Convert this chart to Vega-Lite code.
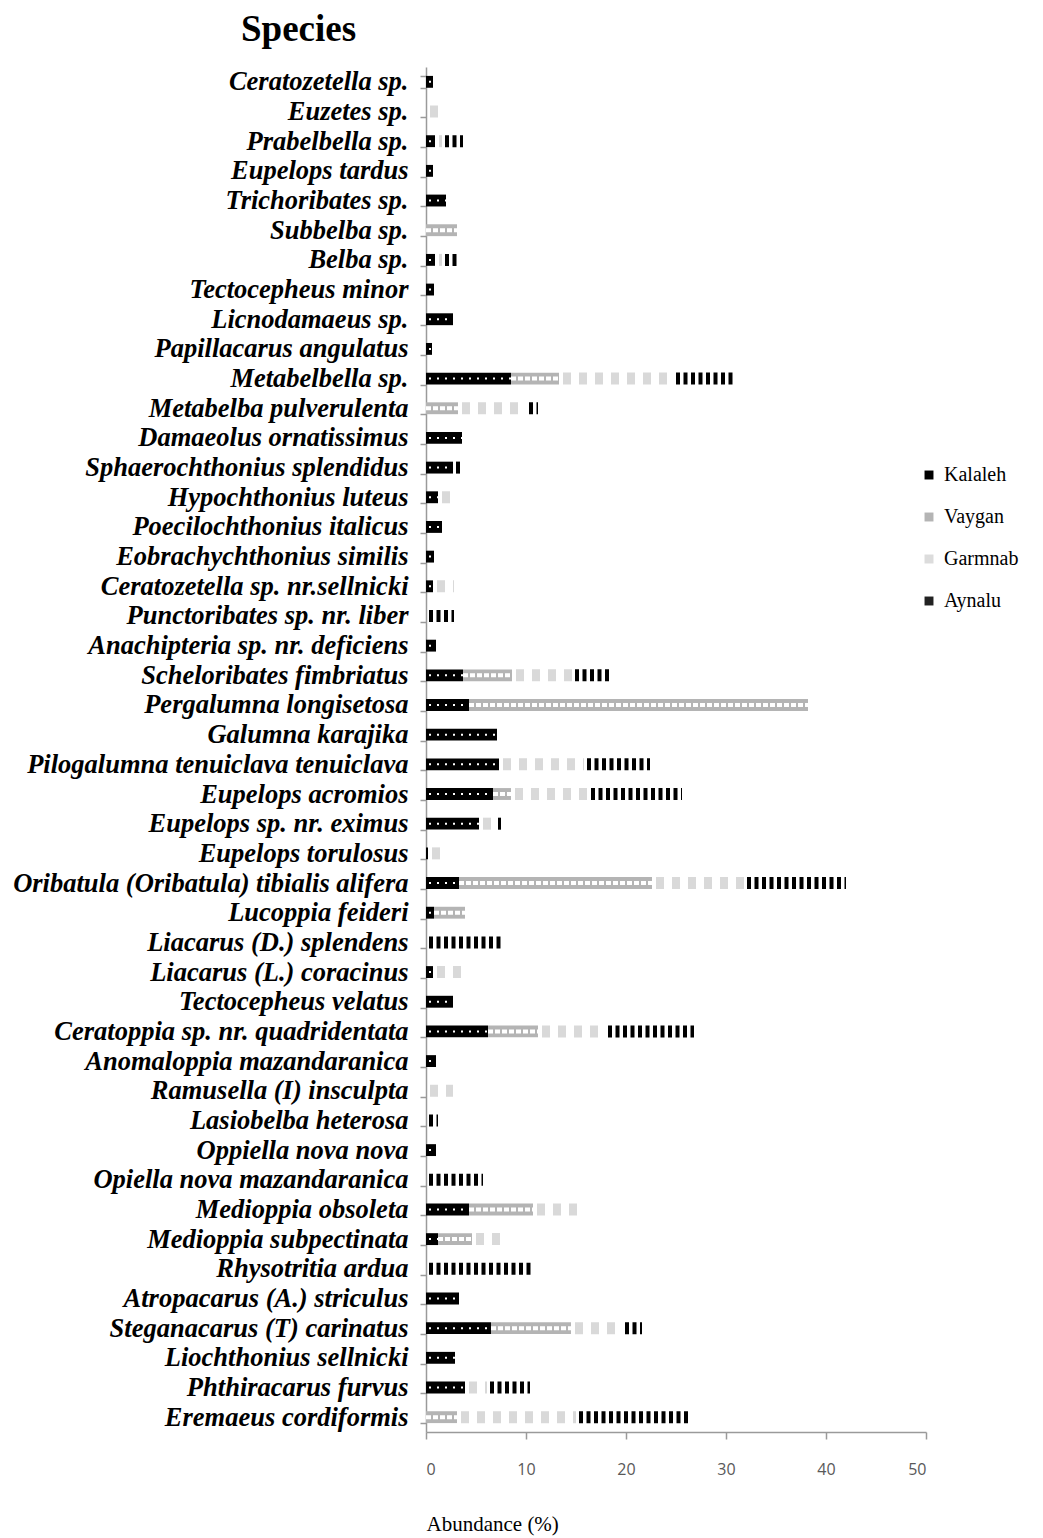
{
  "$schema": "https://vega.github.io/schema/vega-lite/v6.json",
  "width": 500,
  "height": 1365,
  "autosize": {"type": "none"},
  "padding": {"left": 426, "top": 67, "right": 117, "bottom": 106},
  "background": "white",
  "title": {"text": "Species", "font": "Liberation Serif", "fontSize": 37, "fontWeight": "bold", "color": "black", "anchor": "start", "frame": "group", "dx": -185, "offset": 5},
  "config": {"view": {"stroke": null}},
  "data": {"values": [
    {"species": "Ceratozetella sp.", "site": "Kalaleh", "abundance": 0.7},
    {"species": "Euzetes sp.", "site": "Garmnab", "abundance": 1.5},
    {"species": "Prabelbella sp.", "site": "Kalaleh", "abundance": 0.9},
    {"species": "Prabelbella sp.", "site": "Garmnab", "abundance": 0.7},
    {"species": "Prabelbella sp.", "site": "Aynalu", "abundance": 2.1},
    {"species": "Eupelops tardus", "site": "Kalaleh", "abundance": 0.7},
    {"species": "Trichoribates sp.", "site": "Kalaleh", "abundance": 2.0},
    {"species": "Subbelba sp.", "site": "Vaygan", "abundance": 3.1},
    {"species": "Belba sp.", "site": "Kalaleh", "abundance": 0.9},
    {"species": "Belba sp.", "site": "Garmnab", "abundance": 0.7},
    {"species": "Belba sp.", "site": "Aynalu", "abundance": 1.8},
    {"species": "Tectocepheus minor", "site": "Kalaleh", "abundance": 0.8},
    {"species": "Licnodamaeus sp.", "site": "Kalaleh", "abundance": 2.7},
    {"species": "Papillacarus angulatus", "site": "Kalaleh", "abundance": 0.6},
    {"species": "Metabelbella sp.", "site": "Kalaleh", "abundance": 8.5},
    {"species": "Metabelbella sp.", "site": "Vaygan", "abundance": 4.8},
    {"species": "Metabelbella sp.", "site": "Garmnab", "abundance": 11.4},
    {"species": "Metabelbella sp.", "site": "Aynalu", "abundance": 6.3},
    {"species": "Metabelba pulverulenta", "site": "Vaygan", "abundance": 3.2},
    {"species": "Metabelba pulverulenta", "site": "Garmnab", "abundance": 6.8},
    {"species": "Metabelba pulverulenta", "site": "Aynalu", "abundance": 1.2},
    {"species": "Damaeolus ornatissimus", "site": "Kalaleh", "abundance": 3.6},
    {"species": "Sphaerochthonius splendidus", "site": "Kalaleh", "abundance": 2.7},
    {"species": "Sphaerochthonius splendidus", "site": "Aynalu", "abundance": 0.9},
    {"species": "Hypochthonius luteus", "site": "Kalaleh", "abundance": 1.2},
    {"species": "Hypochthonius luteus", "site": "Garmnab", "abundance": 1.2},
    {"species": "Poecilochthonius italicus", "site": "Kalaleh", "abundance": 1.6},
    {"species": "Eobrachychthonius similis", "site": "Kalaleh", "abundance": 0.8},
    {"species": "Ceratozetella sp. nr.sellnicki", "site": "Kalaleh", "abundance": 0.7},
    {"species": "Ceratozetella sp. nr.sellnicki", "site": "Garmnab", "abundance": 2.1},
    {"species": "Punctoribates sp. nr. liber", "site": "Aynalu", "abundance": 2.8},
    {"species": "Anachipteria sp. nr. deficiens", "site": "Kalaleh", "abundance": 1.0},
    {"species": "Scheloribates fimbriatus", "site": "Kalaleh", "abundance": 3.7},
    {"species": "Scheloribates fimbriatus", "site": "Vaygan", "abundance": 4.9},
    {"species": "Scheloribates fimbriatus", "site": "Garmnab", "abundance": 6.0},
    {"species": "Scheloribates fimbriatus", "site": "Aynalu", "abundance": 3.9},
    {"species": "Pergalumna longisetosa", "site": "Kalaleh", "abundance": 4.3},
    {"species": "Pergalumna longisetosa", "site": "Vaygan", "abundance": 33.9},
    {"species": "Galumna karajika", "site": "Kalaleh", "abundance": 7.1},
    {"species": "Pilogalumna tenuiclava tenuiclava", "site": "Kalaleh", "abundance": 7.3},
    {"species": "Pilogalumna tenuiclava tenuiclava", "site": "Garmnab", "abundance": 8.5},
    {"species": "Pilogalumna tenuiclava tenuiclava", "site": "Aynalu", "abundance": 6.6},
    {"species": "Eupelops acromios", "site": "Kalaleh", "abundance": 6.7},
    {"species": "Eupelops acromios", "site": "Vaygan", "abundance": 1.8},
    {"species": "Eupelops acromios", "site": "Garmnab", "abundance": 7.7},
    {"species": "Eupelops acromios", "site": "Aynalu", "abundance": 9.4},
    {"species": "Eupelops sp. nr. eximus", "site": "Kalaleh", "abundance": 5.3},
    {"species": "Eupelops sp. nr. eximus", "site": "Garmnab", "abundance": 1.6},
    {"species": "Eupelops sp. nr. eximus", "site": "Aynalu", "abundance": 0.6},
    {"species": "Eupelops torulosus", "site": "Kalaleh", "abundance": 0.2},
    {"species": "Eupelops torulosus", "site": "Garmnab", "abundance": 1.8},
    {"species": "Oribatula (Oribatula) tibialis alifera", "site": "Kalaleh", "abundance": 3.3},
    {"species": "Oribatula (Oribatula) tibialis alifera", "site": "Vaygan", "abundance": 19.3},
    {"species": "Oribatula (Oribatula) tibialis alifera", "site": "Garmnab", "abundance": 9.2},
    {"species": "Oribatula (Oribatula) tibialis alifera", "site": "Aynalu", "abundance": 10.2},
    {"species": "Lucoppia feideri", "site": "Kalaleh", "abundance": 0.8},
    {"species": "Lucoppia feideri", "site": "Vaygan", "abundance": 3.1},
    {"species": "Liacarus (D.) splendens", "site": "Aynalu", "abundance": 7.5},
    {"species": "Liacarus (L.) coracinus", "site": "Kalaleh", "abundance": 0.7},
    {"species": "Liacarus (L.) coracinus", "site": "Garmnab", "abundance": 2.9},
    {"species": "Tectocepheus velatus", "site": "Kalaleh", "abundance": 2.7},
    {"species": "Ceratoppia  sp. nr. quadridentata", "site": "Kalaleh", "abundance": 6.2},
    {"species": "Ceratoppia  sp. nr. quadridentata", "site": "Vaygan", "abundance": 5.0},
    {"species": "Ceratoppia  sp. nr. quadridentata", "site": "Garmnab", "abundance": 6.7},
    {"species": "Ceratoppia  sp. nr. quadridentata", "site": "Aynalu", "abundance": 8.9},
    {"species": "Anomaloppia mazandaranica", "site": "Kalaleh", "abundance": 1.0},
    {"species": "Ramusella (I)  insculpta", "site": "Garmnab", "abundance": 2.7},
    {"species": "Lasiobelba  heterosa", "site": "Aynalu", "abundance": 1.2},
    {"species": "Oppiella nova nova", "site": "Kalaleh", "abundance": 1.0},
    {"species": "Opiella nova mazandaranica", "site": "Aynalu", "abundance": 5.7},
    {"species": "Medioppia obsoleta", "site": "Kalaleh", "abundance": 4.3},
    {"species": "Medioppia obsoleta", "site": "Vaygan", "abundance": 6.4},
    {"species": "Medioppia obsoleta", "site": "Garmnab", "abundance": 4.8},
    {"species": "Medioppia subpectinata", "site": "Kalaleh", "abundance": 1.2},
    {"species": "Medioppia subpectinata", "site": "Vaygan", "abundance": 3.4},
    {"species": "Medioppia subpectinata", "site": "Garmnab", "abundance": 3.6},
    {"species": "Rhysotritia ardua", "site": "Aynalu", "abundance": 10.6},
    {"species": "Atropacarus (A.) striculus", "site": "Kalaleh", "abundance": 3.3},
    {"species": "Steganacarus (T) carinatus", "site": "Kalaleh", "abundance": 6.5},
    {"species": "Steganacarus (T) carinatus", "site": "Vaygan", "abundance": 8.0},
    {"species": "Steganacarus (T) carinatus", "site": "Garmnab", "abundance": 5.1},
    {"species": "Steganacarus (T) carinatus", "site": "Aynalu", "abundance": 2.0},
    {"species": "Liochthonius sellnicki", "site": "Kalaleh", "abundance": 2.9},
    {"species": "Phthiracarus furvus", "site": "Kalaleh", "abundance": 3.9},
    {"species": "Phthiracarus furvus", "site": "Garmnab", "abundance": 2.2},
    {"species": "Phthiracarus furvus", "site": "Aynalu", "abundance": 4.3},
    {"species": "Eremaeus cordiformis", "site": "Vaygan", "abundance": 3.1},
    {"species": "Eremaeus cordiformis", "site": "Garmnab", "abundance": 11.9},
    {"species": "Eremaeus cordiformis", "site": "Aynalu", "abundance": 11.2}
  ]},
  "transform": [
    {"stack": "abundance", "groupby": ["species"], "as": ["x0", "x1"]}
  ],
  "encoding": {
    "y": {
      "field": "species", "type": "nominal",
      "sort": ["Ceratozetella sp.", "Euzetes sp.", "Prabelbella sp.", "Eupelops tardus", "Trichoribates sp.", "Subbelba sp.", "Belba sp.", "Tectocepheus minor", "Licnodamaeus sp.", "Papillacarus angulatus", "Metabelbella sp.", "Metabelba pulverulenta", "Damaeolus ornatissimus", "Sphaerochthonius splendidus", "Hypochthonius luteus", "Poecilochthonius italicus", "Eobrachychthonius similis", "Ceratozetella sp. nr.sellnicki", "Punctoribates sp. nr. liber", "Anachipteria sp. nr. deficiens", "Scheloribates fimbriatus", "Pergalumna longisetosa", "Galumna karajika", "Pilogalumna tenuiclava tenuiclava", "Eupelops acromios", "Eupelops sp. nr. eximus", "Eupelops torulosus", "Oribatula (Oribatula) tibialis alifera", "Lucoppia feideri", "Liacarus (D.) splendens", "Liacarus (L.) coracinus", "Tectocepheus velatus", "Ceratoppia  sp. nr. quadridentata", "Anomaloppia mazandaranica", "Ramusella (I)  insculpta", "Lasiobelba  heterosa", "Oppiella nova nova", "Opiella nova mazandaranica", "Medioppia obsoleta", "Medioppia subpectinata", "Rhysotritia ardua", "Atropacarus (A.) striculus", "Steganacarus (T) carinatus", "Liochthonius sellnicki", "Phthiracarus furvus", "Eremaeus cordiformis"],
      "scale": {"paddingInner": 0.6, "paddingOuter": 0.3},
      "axis": {"title": null, "labelFont": "Liberation Serif", "labelFontSize": 26.5, "labelFontWeight": "bold", "labelFontStyle": "italic", "labelColor": "black", "labelLimit": 0, "labelPadding": 12, "tickBand": "extent", "tickSize": 6, "tickColor": "#9a9a9a", "domainColor": "#9a9a9a", "tickWidth": 1.5, "domainWidth": 1.5}
    },
    "x": {
      "field": "x0", "type": "quantitative",
      "scale": {"domain": [0, 50], "nice": false},
      "axis": {"title": "Abundance (%)", "values": [0, 10, 20, 30, 40, 50], "grid": false, "labelFont": "Open Sans", "labelFontSize": 16, "labelColor": "#595959", "labelPadding": 22, "tickSize": 7, "tickColor": "#9a9a9a", "domainColor": "#9a9a9a", "tickWidth": 1.5, "domainWidth": 1.5, "titleFont": "Liberation Serif", "titleFontSize": 21, "titleFontWeight": "normal", "titleColor": "black", "titlePadding": 36, "titleAnchor": "start"}
    },
    "x2": {"field": "x1"}
  },
  "layer": [
    {
      "transform": [{"filter": "datum.site === 'Kalaleh' || datum.site === 'Vaygan'"}],
      "mark": {"type": "bar"},
      "encoding": {
        "color": {
          "field": "site", "type": "nominal",
          "scale": {"domain": ["Kalaleh", "Vaygan", "Garmnab", "Aynalu"], "range": ["#000000", "#b4b4b4", "#dcdcdc", "#222222"]},
          "legend": {"title": null, "orient": "none", "legendX": 493, "legendY": 398, "symbolType": "square", "symbolSize": 80, "symbolStrokeWidth": 0, "labelFont": "Liberation Serif", "labelFontSize": 20, "labelColor": "black", "rowPadding": 22, "labelOffset": 5}
        }
      }
    },
    {
      "transform": [{"filter": "datum.site === 'Vaygan'"}],
      "mark": {"type": "rule", "color": "white", "strokeWidth": 4, "strokeDash": [5, 2]},
      "encoding": {}
    },
    {
      "transform": [{"filter": "datum.site === 'Kalaleh'"}],
      "mark": {"type": "rule", "color": "white", "strokeWidth": 2, "strokeDash": [2, 6], "strokeDashOffset": -3},
      "encoding": {}
    },
    {
      "transform": [{"filter": "datum.site === 'Garmnab'"}],
      "mark": {"type": "rule", "color": "#d9d9d9", "strokeWidth": 12, "strokeDash": [8, 8], "strokeDashOffset": -4},
      "encoding": {}
    },
    {
      "transform": [{"filter": "datum.site === 'Aynalu'"}],
      "mark": {"type": "rule", "color": "#000000", "strokeWidth": 12, "strokeDash": [4, 3.5], "strokeDashOffset": -3},
      "encoding": {}
    }
  ]
}
